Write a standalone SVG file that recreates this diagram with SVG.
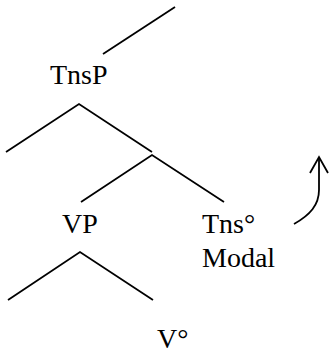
<svg xmlns="http://www.w3.org/2000/svg" width="329" height="353" viewBox="0 0 329 353">
<style>
.l{fill:none;stroke:#000;stroke-width:1.8;stroke-linecap:butt;stroke-linejoin:miter}
text{font-family:'Liberation Serif','Times New Roman',serif;font-size:28px;fill:#000}
</style>
<rect width="329" height="353" fill="#fff"/>
<g id="connectors">
<polyline class="l" points="175,7 103,54"/>
<polyline class="l" points="6,152 79,104 152,152"/>
<polyline class="l" points="81,202 152,155 224,202"/>
<polyline class="l" points="8,300 80,252 153,300"/>
<path class="l" d="M294,224 C310,215 319,205 319,190 L319,157"/>
<polyline class="l" points="310,173 319,157 328,173"/>
</g>
<g id="TnsP"><text x="50" y="84">TnsP</text></g>
<g id="VP"><text x="62" y="233">VP</text></g>
<g id="Tns"><text x="202" y="233">Tns°</text><text x="202" y="267">Modal</text></g>
<g id="V"><text x="157" y="348">V°</text></g>
</svg>
